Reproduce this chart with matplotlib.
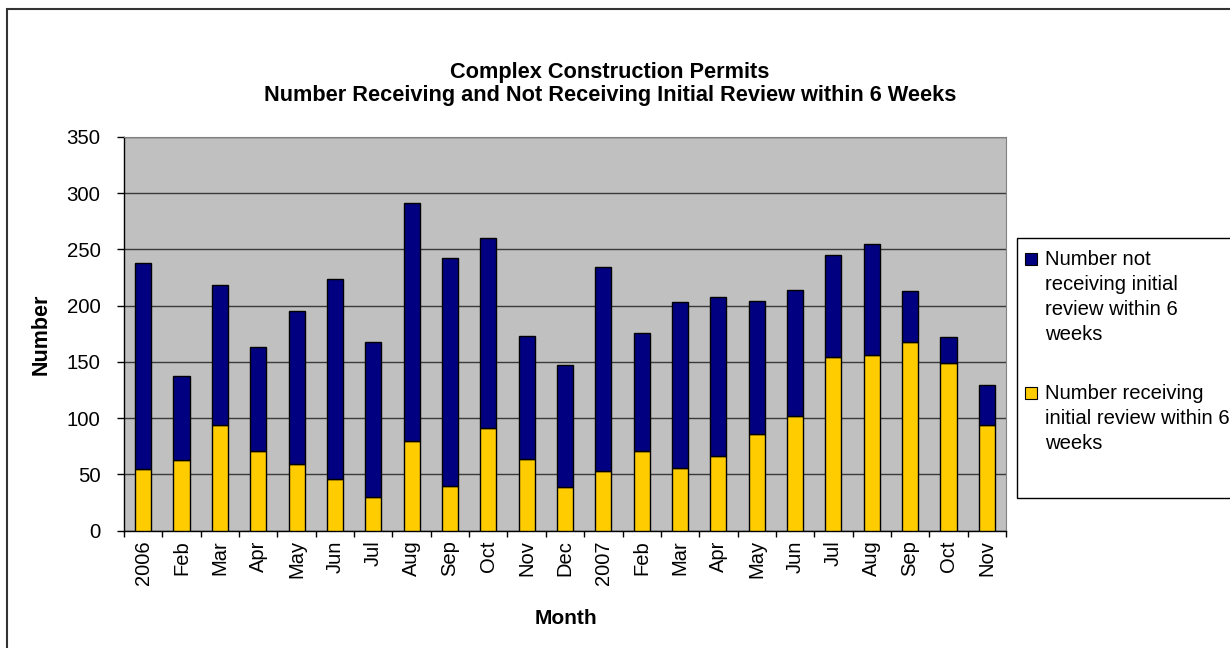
import numpy as np
import matplotlib
matplotlib.use("Agg")
import matplotlib.pyplot as plt
from matplotlib.patches import Rectangle

plt.rcParams["font.family"] = ["Liberation Sans", "DejaVu Sans"]

# ── Data ─────────────────────────────────────────────────────────
months = ["2006", "Feb", "Mar", "Apr", "May", "Jun", "Jul", "Aug", "Sep",
          "Oct", "Nov", "Dec", "2007", "Feb", "Mar", "Apr", "May", "Jun",
          "Jul", "Aug", "Sep", "Oct", "Nov"]
receiving = [55, 63, 94, 71, 59, 46, 30, 80, 40, 91, 64, 39,
             53, 71, 56, 66, 86, 102, 154, 156, 168, 149, 94]
totals = [238, 137, 218, 163, 195, 224, 168, 291, 242, 260, 173, 147,
          234, 176, 203, 208, 204, 214, 245, 255, 213, 172, 129]
not_receiving = [t - r for t, r in zip(totals, receiving)]

series_names = ["Number not\nreceiving initial\nreview within 6\nweeks",
                "Number receiving\ninitial review within 6\nweeks"]
COLORS = ["#000080", "#FFCC00"]

W, H = 1230, 648
fig = plt.figure(figsize=(W / 100, H / 100), dpi=100)


def fx(px):
    return px / W


def fy(py):
    return 1 - py / H


# outer chart border (clipped at right and bottom like the source)
fig.patches.append(Rectangle((fx(7), fy(700)), fx(1300), fy(9) - fy(700),
                             transform=fig.transFigure, fill=False,
                             edgecolor="#333333", lw=1.5))

ax = fig.add_axes([fx(124), fy(530.5), fx(1006) - fx(124), fy(137) - fy(530.5)])
ax.set_facecolor("#C0C0C0")

x = np.arange(len(months))
bw = 0.42
ax.bar(x, receiving, bw, color=COLORS[1], edgecolor="black", lw=1, zorder=3)
ax.bar(x, not_receiving, bw, bottom=receiving, color=COLORS[0],
       edgecolor="black", lw=1, zorder=3)

ax.set_xlim(-0.5, len(months) - 0.5)
ax.set_ylim(0, 350)
ax.set_yticks(np.arange(0, 351, 50))
ax.yaxis.grid(True, color="#3a3a3a", lw=1)
ax.set_axisbelow(True)

# ticks on category boundaries, labels centred under bars
ax.set_xticks(np.arange(-0.5, len(months), 1))
ax.set_xticklabels([])
ax.set_xticks(x, minor=True)
ax.set_xticklabels(months, minor=True, rotation=90, fontsize=14.5)
ax.tick_params(axis="x", which="major", direction="out", length=4.5, width=1)
ax.tick_params(axis="x", which="minor", length=0, pad=7)
ax.tick_params(axis="y", direction="out", length=5, width=1, labelsize=14.7, pad=12)

for side in ["top", "right"]:
    ax.spines[side].set_color("#808080")
for side in ["left", "bottom"]:
    ax.spines[side].set_color("black")
    ax.spines[side].set_linewidth(1)

# titles and axis labels
fig.text(fx(610), fy(84), "Complex Construction Permits\n"
         "Number Receiving and Not Receiving Initial Review within 6 Weeks",
         ha="center", va="center", fontsize=15.7, fontweight="bold", linespacing=1.15)
fig.text(fx(41), fy(334), "Number", rotation=90, ha="center", va="center",
         fontsize=15.5, fontweight="bold")
fig.text(fx(566), fy(618), "Month", ha="center", va="center",
         fontsize=15, fontweight="bold")

# legend box, drawn like the spreadsheet one (text runs past the edge)
fig.patches.append(Rectangle((fx(1017), fy(498)), fx(400), fy(238) - fy(498),
                             transform=fig.transFigure, facecolor="white",
                             edgecolor="black", lw=1))
for name, color, ty in zip(series_names, COLORS, [259, 393]):
    fig.patches.append(Rectangle((fx(1025), fy(ty + 6)), fx(12), fy(ty - 6) - fy(ty + 6),
                                 transform=fig.transFigure, facecolor=color,
                                 edgecolor="black", lw=0.8))
    fig.text(fx(1045), fy(ty - 9), name, ha="left", va="top",
             fontsize=14.6, linespacing=1.4)

fig.savefig("out.png", dpi=100)
